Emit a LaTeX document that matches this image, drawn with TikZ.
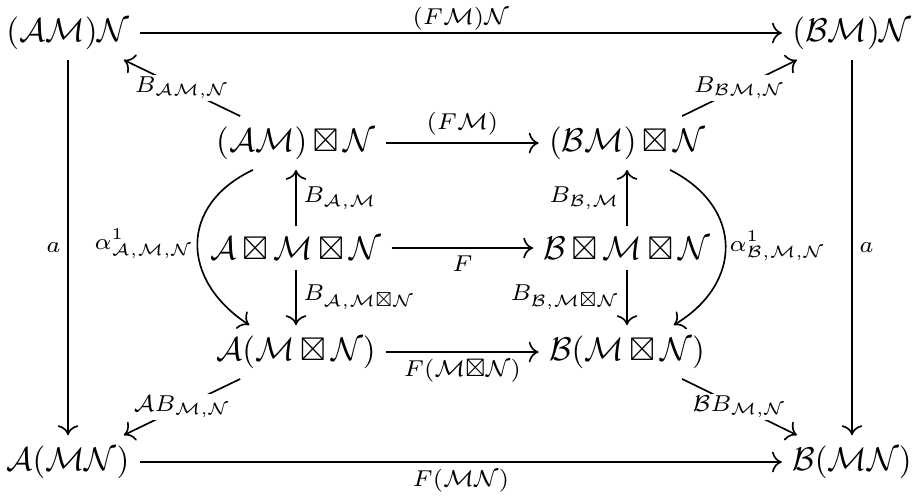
\documentclass[tikz,border=0pt]{standalone}
\usepackage{amsmath,amssymb}
\usetikzlibrary{arrows.meta}
\newcommand{\cA}{\mathcal{A}}
\newcommand{\cB}{\mathcal{B}}
\newcommand{\cM}{\mathcal{M}}
\newcommand{\cN}{\mathcal{N}}
\begin{document}
\begin{tikzpicture}[
    x=0.107mm, y=-0.107mm,
    obj/.style={inner sep=3pt, execute at begin node={\medmuskip=3mu}},
    arrow/.style={-{To[length=3pt]}, line width=0.5pt},
    lbl/.style={font=\scriptsize, inner sep=2pt},
    onlbl/.style={font=\scriptsize, fill=white, inner sep=0.5pt}
]
    \useasboundingbox (0,0) rectangle (916,497);

    % Outer corners
    \node[obj] (amN) at (68,33) {$(\cA\cM)\cN$};
    \node[obj] (bmN) at (852,33) {$(\cB\cM)\cN$};
    \node[obj] (amn) at (68,462) {$\cA(\cM\cN)$};
    \node[obj] (bmn) at (852,462) {$\cB(\cM\cN)$};

    % Inner columns
    \node[obj] (amxN) at (296,143) {$(\cA\cM)\boxtimes\cN$};
    \node[obj] (bmxN) at (627,143) {$(\cB\cM)\boxtimes\cN$};
    \node[obj] (axmxn) at (296,248) {$\cA\boxtimes\cM\boxtimes\cN$};
    \node[obj] (bxmxn) at (627,248) {$\cB\boxtimes\cM\boxtimes\cN$};
    \node[obj] (amxn) at (296,352) {$\cA(\cM\boxtimes\cN)$};
    \node[obj] (bmxn) at (627,352) {$\cB(\cM\boxtimes\cN)$};

    % Horizontal arrows
    \draw[arrow] (amN) -- node[lbl, above, inner sep=0.5pt] {$(F\cM)\cN$} (bmN);
    \draw[arrow] (amxN) -- node[lbl, above] {$(F\cM)$} (bmxN);
    \draw[arrow] (axmxn) -- node[lbl, below] {$F$} (bxmxn);
    \draw[arrow] (amxn) -- node[lbl, below] {$F(\cM{\boxtimes}\cN)$} (bmxn);
    \draw[arrow] (amn) -- node[lbl, below] {$F(\cM\cN)$} (bmn);

    % Outer verticals
    \draw[arrow] (amN) -- node[lbl, left] {$a$} (amn);
    \draw[arrow] (bmN) -- node[lbl, right] {$a$} (bmn);

    % Inner verticals
    \draw[arrow] (axmxn) -- node[lbl, right] {$B_{\cA,\cM}$} (amxN);
    \draw[arrow] (axmxn) -- node[lbl, right] {$B_{\cA,\cM\boxtimes\cN}$} (amxn);
    \draw[arrow] (bxmxn) -- node[lbl, left] {$B_{\cB,\cM}$} (bmxN);
    \draw[arrow] (bxmxn) -- node[lbl, left] {$B_{\cB,\cM\boxtimes\cN}$} (bmxn);

    % Diagonals
    \draw[arrow] (amxN) -- node[onlbl] {$B_{\cA\cM,\cN}$} (amN);
    \draw[arrow] (bmxN) -- node[onlbl] {$B_{\cB\cM,\cN}$} (bmN);
    \draw[arrow] (amxn) -- node[onlbl] {$\cA B_{\cM,\cN}$} (amn);
    \draw[arrow] (bmxn) -- node[onlbl] {$\cB B_{\cM,\cN}$} (bmn);

    % Curved arrows
    \draw[arrow] (amxN.212) .. controls +(-74,35) and +(-69,-45) .. node[lbl, left, inner sep=1pt] {$\alpha^{1}_{\cA,\cM,\cN}$} (amxn.150);
    \draw[arrow] (bmxN.-32) .. controls +(73,37) and +(70,-42) .. node[lbl, right, inner sep=1pt] {$\alpha^{1}_{\cB,\cM,\cN}$} (bmxn.30);

\end{tikzpicture}
\end{document}
